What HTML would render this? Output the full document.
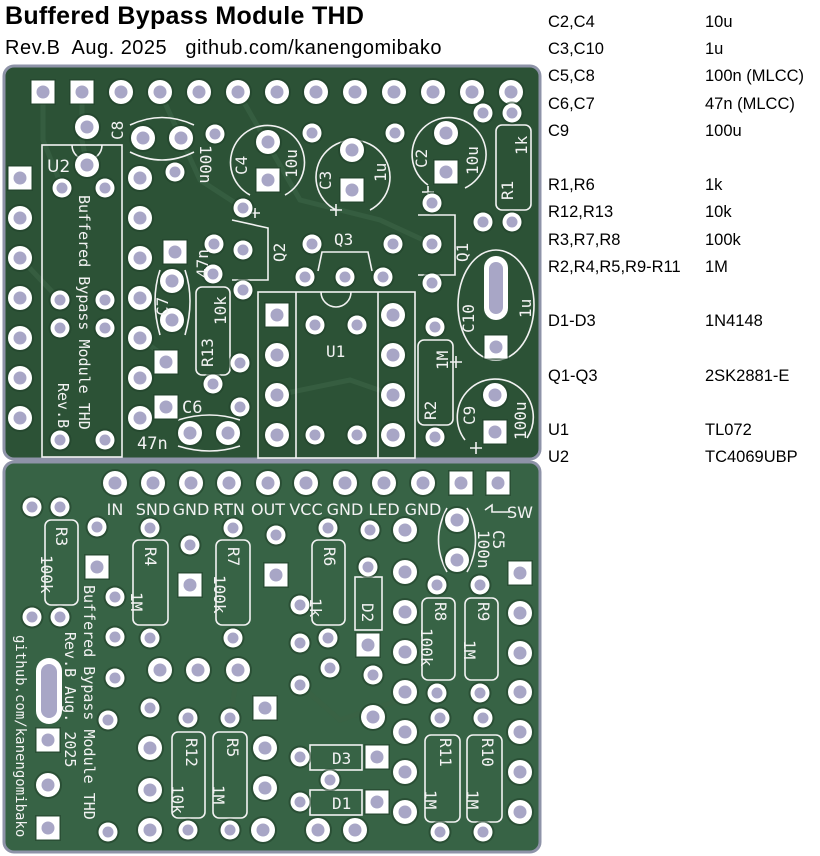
<!DOCTYPE html>
<html><head><meta charset="utf-8"><style>
body{margin:0;background:#fff;width:820px;height:856px;overflow:hidden;position:relative;font-family:"Liberation Sans",sans-serif}
.t{position:absolute;white-space:nowrap}
</style></head><body>
<div class="t" style="left:5px;top:2px;font-size:25px;font-weight:bold;letter-spacing:0.3px">Buffered Bypass Module THD</div>
<div class="t" style="left:5px;top:37px;font-size:20px;letter-spacing:0.5px">Rev.B&nbsp; Aug. 2025&nbsp;&nbsp; github.com/kanengomibako</div>
<div class="t" style="left:548px;top:9px;font-size:16.5px;line-height:27.2px">C2,C4<br>C3,C10<br>C5,C8<br>C6,C7<br>C9<br><br>R1,R6<br>R12,R13<br>R3,R7,R8<br>R2,R4,R5,R9-R11<br><br>D1-D3<br><br>Q1-Q3<br><br>U1<br>U2</div>
<div class="t" style="left:705px;top:9px;font-size:16.5px;line-height:27.2px">10u<br>1u<br>100n (MLCC)<br>47n (MLCC)<br>100u<br><br>1k<br>10k<br>100k<br>1M<br><br>1N4148<br><br>2SK2881-E<br><br>TL072<br>TC4069UBP</div>
<svg width="820" height="856" style="position:absolute;left:0;top:0">
<defs>
<g id="p"><circle r="14" fill="#22432b" opacity="0.6"/><circle r="12" fill="#fff"/><circle r="6.5" fill="#a8a6c6"/></g>
<g id="ps"><circle r="11.5" fill="#22432b" opacity="0.6"/><circle r="9.5" fill="#fff"/><circle r="5.5" fill="#a8a6c6"/></g>
<g id="q"><rect x="-13" y="-13" width="26" height="26" fill="#22432b" opacity="0.6"/><rect x="-11.5" y="-11.5" width="23" height="23" fill="#fff"/><circle r="6.5" fill="#a8a6c6"/></g>
</defs>
<rect x="4" y="66" width="536" height="393" rx="10" fill="#2c5236" stroke="#8e93a8" stroke-width="3"/>
<rect x="4" y="462" width="536" height="390" rx="10" fill="#376345" stroke="#8e93a8" stroke-width="3"/>
<g fill="none" stroke="#3a6345" stroke-width="5" opacity="0.7">
<path d="M43 92 L43 140 L62 187"/><path d="M82 92 L82 140 L87 165"/><path d="M160 92 L200 180 L243 208"/><path d="M238 92 L300 200 L380 220 L432 244"/><path d="M20 258 L60 300"/><path d="M140 338 L172 362"/><path d="M277 395 L350 380 L393 395"/>
<path d="M238 670 L230 718"/><path d="M300 685 L340 720 L400 700"/>
</g>
<g fill="none" stroke="#f2f2f2" stroke-width="1.6">
<rect x="42" y="145" width="80" height="312"/><path d="M72 145 A15 15 0 0 0 102 145"/>
<path d="M130 125 Q162 110 194 125 M130 152 Q162 168 194 152"/>
<path d="M250 195 A37 37 0 1 1 285 195"/><path d="M336 210 A37 37 0 1 1 370 210"/><path d="M428 185 A37 37 0 1 1 465 188"/>
<rect x="496" y="125" width="35" height="85" rx="6"/>
<path d="M232 220 L268 228 L268 280 L232 280"/>
<path d="M418 215 L455 215 L455 275 L418 275"/>
<path d="M318 271 L322 252 L368 252 L372 271"/>
<rect x="258" y="292" width="157" height="166"/><line x1="296" y1="292" x2="296" y2="458"/><line x1="378" y1="292" x2="378" y2="458"/><path d="M321 292 A15 15 0 0 0 351 292"/>
<rect x="196" y="287" width="34" height="88" rx="6"/>
<path d="M160 270 Q150 300 160 335 M185 270 Q195 300 185 335"/>
<path d="M178 420 Q210 410 240 420 M178 446 Q210 456 240 446"/>
<ellipse cx="496" cy="305" rx="38" ry="55"/>
<rect x="418" y="340" width="35" height="85" rx="6"/>
<path d="M465 440 A38 38 0 1 1 527 438"/>
<rect x="45" y="520" width="33" height="85" rx="6"/>
<rect x="133" y="540" width="35" height="85" rx="6"/>
<rect x="216" y="540" width="34" height="85" rx="6"/>
<rect x="312" y="540" width="33" height="85" rx="6"/>
<rect x="355" y="577" width="27" height="53"/>
<path d="M447 508 Q430 540 447 572 M467 508 Q484 540 467 572"/>
<rect x="422" y="598" width="33" height="82" rx="6"/>
<rect x="465" y="598" width="33" height="82" rx="6"/>
<rect x="425" y="735" width="35" height="87" rx="6"/>
<rect x="467" y="735" width="35" height="87" rx="6"/>
<rect x="172" y="732" width="33" height="86" rx="6"/>
<rect x="213" y="732" width="34" height="86" rx="6"/>
<rect x="310" y="745" width="52" height="25"/><rect x="310" y="790" width="52" height="25"/>
<path d="M485 510 L492 505 L492 512 L510 512"/>
<path d="M250 213 h10 M255 208 v10 M330 210 h12 M336 204 v12 M422 192 h12 M428 186 v12 M470 448 h12 M476 442 v12 M450 362 h12 M456 356 v12"/>
</g>
<rect x="484" y="256" width="24" height="64" rx="12" fill="#fff"/><rect x="489" y="262" width="14" height="52" rx="7" fill="#a8a6c6"/>
<rect x="36" y="658" width="26" height="66" rx="13" fill="#fff"/><rect x="41" y="664" width="16" height="54" rx="8" fill="#a8a6c6"/>
<g>
<use href="#q" x="43" y="92"/><use href="#q" x="82" y="92"/>
<use href="#p" x="121" y="92"/><use href="#p" x="160" y="92"/><use href="#p" x="199" y="92"/><use href="#p" x="238" y="92"/><use href="#p" x="277" y="92"/><use href="#p" x="316" y="92"/><use href="#p" x="355" y="92"/><use href="#p" x="394" y="92"/><use href="#p" x="433" y="92"/><use href="#p" x="472" y="92"/><use href="#p" x="511" y="92"/>
<use href="#q" x="20" y="178"/><use href="#p" x="20" y="218"/><use href="#p" x="20" y="258"/><use href="#p" x="20" y="298"/><use href="#p" x="20" y="338"/><use href="#p" x="20" y="378"/><use href="#p" x="20" y="418"/>
<use href="#p" x="140" y="178"/><use href="#p" x="140" y="218"/><use href="#p" x="140" y="258"/><use href="#p" x="140" y="298"/><use href="#p" x="140" y="338"/><use href="#p" x="140" y="378"/><use href="#p" x="140" y="418"/>
<use href="#p" x="87" y="127"/><use href="#p" x="87" y="165"/><use href="#ps" x="62" y="188"/><use href="#ps" x="105" y="188"/>
<use href="#ps" x="60" y="300"/><use href="#ps" x="105" y="300"/><use href="#ps" x="60" y="328"/><use href="#ps" x="105" y="328"/><use href="#ps" x="60" y="440"/><use href="#ps" x="105" y="440"/>
<use href="#p" x="143" y="138"/><use href="#p" x="181" y="138"/><use href="#ps" x="215" y="134"/><use href="#ps" x="175" y="172"/>
<use href="#p" x="268" y="142"/><use href="#q" x="268" y="180"/><use href="#ps" x="243" y="208"/>
<use href="#ps" x="312" y="133"/><use href="#p" x="352" y="150"/><use href="#q" x="352" y="190"/>
<use href="#ps" x="395" y="133"/><use href="#p" x="446" y="133"/><use href="#q" x="446" y="172"/><use href="#ps" x="432" y="203"/>
<use href="#ps" x="483" y="113"/><use href="#ps" x="512" y="113"/><use href="#ps" x="483" y="222"/><use href="#ps" x="512" y="222"/>
<use href="#ps" x="214" y="244"/><use href="#ps" x="243" y="250"/><use href="#ps" x="243" y="290"/><use href="#ps" x="213" y="274"/><use href="#ps" x="213" y="384"/>
<use href="#q" x="175" y="252"/><use href="#p" x="172" y="281"/><use href="#p" x="172" y="320"/><use href="#q" x="166" y="362"/><use href="#q" x="166" y="407"/>
<use href="#p" x="190" y="433"/><use href="#p" x="228" y="433"/><use href="#ps" x="240" y="363"/><use href="#ps" x="240" y="407"/>
<use href="#ps" x="312" y="244"/><use href="#ps" x="393" y="244"/><use href="#ps" x="305" y="277"/><use href="#ps" x="345" y="277"/><use href="#ps" x="383" y="277"/>
<use href="#q" x="277" y="315"/><use href="#p" x="277" y="355"/><use href="#p" x="277" y="395"/><use href="#p" x="277" y="435"/>
<use href="#p" x="393" y="315"/><use href="#p" x="393" y="355"/><use href="#p" x="393" y="395"/><use href="#p" x="393" y="435"/>
<use href="#ps" x="315" y="325"/><use href="#ps" x="357" y="325"/><use href="#ps" x="315" y="435"/><use href="#ps" x="357" y="435"/>
<use href="#ps" x="432" y="244"/><use href="#ps" x="432" y="283"/>
<use href="#q" x="496" y="347"/><use href="#ps" x="435" y="327"/><use href="#ps" x="435" y="437"/>
<use href="#p" x="495" y="395"/><use href="#q" x="495" y="432"/>
<use href="#p" x="115" y="483"/><use href="#p" x="153" y="483"/><use href="#p" x="191" y="483"/><use href="#p" x="229" y="483"/><use href="#p" x="268" y="483"/><use href="#p" x="306" y="483"/><use href="#p" x="345" y="483"/><use href="#p" x="384" y="483"/><use href="#p" x="423" y="483"/><use href="#q" x="461" y="483"/><use href="#q" x="498" y="483"/>
<use href="#ps" x="32" y="507"/><use href="#ps" x="60" y="507"/><use href="#ps" x="32" y="617"/><use href="#ps" x="60" y="617"/>
<use href="#ps" x="97" y="527"/><use href="#q" x="97" y="567"/><use href="#ps" x="115" y="597"/><use href="#ps" x="115" y="637"/><use href="#ps" x="115" y="678"/><use href="#ps" x="108" y="720"/>
<use href="#ps" x="150" y="528"/><use href="#ps" x="150" y="638"/><use href="#ps" x="190" y="545"/><use href="#q" x="190" y="585"/>
<use href="#ps" x="233" y="528"/><use href="#ps" x="233" y="638"/><use href="#ps" x="276" y="535"/><use href="#q" x="276" y="575"/>
<use href="#ps" x="300" y="605"/><use href="#ps" x="300" y="643"/><use href="#ps" x="300" y="685"/>
<use href="#ps" x="328" y="528"/><use href="#ps" x="328" y="638"/><use href="#ps" x="330" y="668"/>
<use href="#ps" x="370" y="530"/><use href="#ps" x="368" y="567"/><use href="#q" x="368" y="645"/>
<use href="#p" x="405" y="530"/><use href="#p" x="405" y="572"/><use href="#p" x="405" y="612"/><use href="#p" x="405" y="652"/><use href="#p" x="405" y="692"/><use href="#p" x="405" y="732"/><use href="#p" x="405" y="772"/><use href="#p" x="405" y="812"/>
<use href="#p" x="457" y="520"/><use href="#p" x="457" y="560"/>
<use href="#ps" x="437" y="585"/><use href="#ps" x="437" y="693"/><use href="#ps" x="480" y="585"/><use href="#ps" x="480" y="693"/>
<use href="#q" x="520" y="573"/><use href="#p" x="520" y="613"/><use href="#p" x="520" y="653"/><use href="#p" x="520" y="692"/><use href="#p" x="520" y="732"/><use href="#p" x="520" y="772"/><use href="#p" x="520" y="812"/>
<use href="#ps" x="440" y="718"/><use href="#ps" x="440" y="832"/><use href="#ps" x="483" y="718"/><use href="#ps" x="483" y="832"/>
<use href="#ps" x="300" y="757"/><use href="#q" x="377" y="757"/><use href="#ps" x="300" y="802"/><use href="#q" x="377" y="802"/><use href="#ps" x="330" y="780"/>
<use href="#ps" x="373" y="675"/><use href="#p" x="373" y="717"/><use href="#q" x="265" y="708"/><use href="#p" x="265" y="748"/><use href="#p" x="265" y="788"/>
<use href="#p" x="318" y="830"/><use href="#p" x="355" y="830"/><use href="#p" x="263" y="830"/>
<use href="#p" x="160" y="670"/><use href="#p" x="198" y="670"/><use href="#p" x="238" y="670"/><use href="#ps" x="150" y="708"/><use href="#ps" x="188" y="718"/><use href="#ps" x="230" y="718"/>
<use href="#p" x="150" y="748"/><use href="#p" x="150" y="790"/><use href="#ps" x="108" y="832"/><use href="#p" x="150" y="830"/><use href="#ps" x="188" y="830"/><use href="#ps" x="230" y="830"/>
<use href="#q" x="48" y="740"/><use href="#p" x="48" y="785"/><use href="#q" x="48" y="828"/>
</g>
<g fill="#f2f2f2" font-family="DejaVu Sans Mono, monospace" font-size="15">
<text x="47" y="172" font-size="17" font-family="DejaVu Sans, sans-serif">U2</text>
<text transform="translate(123,140) rotate(-90)" font-size="16">C8</text>
<text transform="translate(200,145) rotate(90)" font-size="16">100n</text>
<text transform="translate(247,175) rotate(-90)" font-size="16">C4</text>
<text transform="translate(297,178) rotate(-90)" font-size="16">10u</text>
<text transform="translate(331,190) rotate(-90)" font-size="16">C3</text>
<text transform="translate(386,182) rotate(-90)" font-size="16">1u</text>
<text transform="translate(427,168) rotate(-90)" font-size="16">C2</text>
<text transform="translate(478,175) rotate(-90)" font-size="16">10u</text>
<text transform="translate(527,155) rotate(-90)" font-size="16">1k</text>
<text transform="translate(513,200) rotate(-90)" font-size="16">R1</text>
<text transform="translate(285,262) rotate(-90)" font-size="16">Q2</text>
<text x="334" y="245" font-size="16">Q3</text>
<text x="326" y="357" font-size="16">U1</text>
<text transform="translate(468,262) rotate(-90)" font-size="16">Q1</text>
<text transform="translate(474,333) rotate(-90)" font-size="16">C10</text>
<text transform="translate(531,318) rotate(-90)" font-size="16">1u</text>
<text transform="translate(448,370) rotate(-90)" font-size="16">1M</text>
<text transform="translate(436,420) rotate(-90)" font-size="16">R2</text>
<text transform="translate(475,425) rotate(-90)" font-size="16">C9</text>
<text transform="translate(526,440) rotate(-90)" font-size="16">100u</text>
<text transform="translate(208,278) rotate(-90)" font-size="16">47n</text>
<text transform="translate(168,316) rotate(-90)" font-size="16">C7</text>
<text transform="translate(226,325) rotate(-90)" font-size="16">10k</text>
<text transform="translate(213,367) rotate(-90)" font-size="16">R13</text>
<text x="182" y="413" font-size="17">C6</text>
<text x="137" y="449" font-size="17">47n</text>
<text transform="translate(79,195) rotate(90)">Buffered Bypass Module THD</text>
<text transform="translate(58,383) rotate(90)">Rev.B</text>
<g font-family="DejaVu Sans, sans-serif" font-size="16" text-anchor="middle">
<text x="115" y="515">IN</text><text x="153" y="515">SND</text><text x="191" y="515">GND</text><text x="229" y="515">RTN</text><text x="268" y="515">OUT</text><text x="306" y="515">VCC</text><text x="345" y="515">GND</text><text x="384" y="515">LED</text><text x="423" y="515">GND</text><text x="520" y="518">SW</text>
</g>
<text transform="translate(56,527) rotate(90)" font-size="16">R3</text>
<text transform="translate(41,555) rotate(90)" font-size="16">100k</text>
<text transform="translate(145,547) rotate(90)" font-size="16">R4</text>
<text transform="translate(131,592) rotate(90)" font-size="16">1M</text>
<text transform="translate(228,547) rotate(90)" font-size="16">R7</text>
<text transform="translate(214,575) rotate(90)" font-size="16">100k</text>
<text transform="translate(324,547) rotate(90)" font-size="16">R6</text>
<text transform="translate(310,598) rotate(90)" font-size="16">1k</text>
<text transform="translate(362,603) rotate(90)" font-size="16">D2</text>
<text transform="translate(478,530) rotate(90)" font-size="16">100n</text>
<text transform="translate(493,530) rotate(90)" font-size="16">C5</text>
<text transform="translate(435,602) rotate(90)" font-size="16">R8</text>
<text transform="translate(421,628) rotate(90)" font-size="16">100k</text>
<text transform="translate(478,602) rotate(90)" font-size="16">R9</text>
<text transform="translate(464,640) rotate(90)" font-size="16">1M</text>
<text transform="translate(440,738) rotate(90)" font-size="16">R11</text>
<text transform="translate(425,790) rotate(90)" font-size="16">1M</text>
<text transform="translate(482,738) rotate(90)" font-size="16">R10</text>
<text transform="translate(467,790) rotate(90)" font-size="16">1M</text>
<text transform="translate(186,738) rotate(90)" font-size="16">R12</text>
<text transform="translate(172,785) rotate(90)" font-size="16">10k</text>
<text transform="translate(227,738) rotate(90)" font-size="16">R5</text>
<text transform="translate(213,785) rotate(90)" font-size="16">1M</text>
<text x="332" y="764" font-size="16">D3</text>
<text x="332" y="809" font-size="16">D1</text>
<text transform="translate(84,585) rotate(90)">Buffered Bypass Module THD</text>
<text transform="translate(65,632) rotate(90)">Rev.B Aug. 2025</text>
<text transform="translate(16,635) rotate(90)" font-size="14">github.com/kanengomibako</text>
</g>
</svg>
</body></html>
